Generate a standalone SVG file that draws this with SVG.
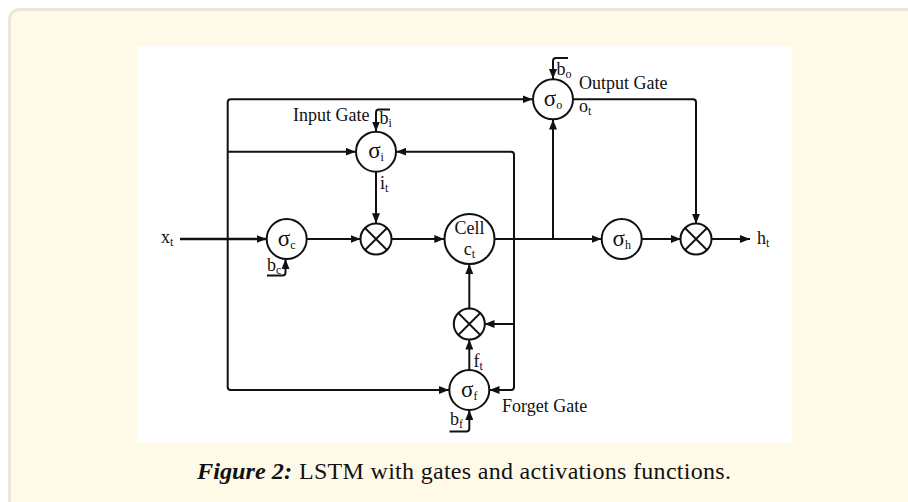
<svg xmlns="http://www.w3.org/2000/svg" width="908" height="502" viewBox="0 0 908 502">
<style>
.ln{stroke:#111;stroke-width:2;fill:none;stroke-linejoin:round}
.nd{fill:#fff;stroke:#111;stroke-width:2}
.x{stroke:#111;stroke-width:1.8}
.t{font-family:"Liberation Serif","Times New Roman",serif;fill:#111;font-size:18px}
.sg{font-family:"Liberation Serif","Times New Roman",serif;fill:#111;font-size:23px}
.sub{font-size:12px}
.cap{font-family:"Liberation Serif","Times New Roman",serif;fill:#111;font-size:24px}
</style>
<defs>
<marker id="ah" markerUnits="userSpaceOnUse" markerWidth="10" markerHeight="8" refX="10" refY="4" orient="auto">
<path d="M0,0 L10,4 L0,8 z" fill="#111"/>
</marker>
</defs>
<rect x="0" y="0" width="908" height="502" fill="#fff"/>
<rect x="9.5" y="9.5" width="930" height="530" rx="10" fill="#fffae8" stroke="#ece6d6" stroke-width="3"/>
<rect x="137" y="46" width="655" height="397" fill="#fff"/>

<g id="connectors" class="ln" marker-end="url(#ah)">
<path d="M180,239 H266.5" stroke-width="2.6"/>
<path d="M227.7,239 V102.3 Q227.7,99.3 230.7,99.3 H532.5"/>
<path d="M227.7,239 V387 Q227.7,390 230.7,390 H449"/>
<path d="M227.7,151.7 H355.7"/>
<path d="M306.7,239 H360.5"/>
<path d="M391.7,239 H444.3"/>
<path d="M494.5,239 H601.5"/>
<path d="M641.7,239 H680.8"/>
<path d="M711,239 H750"/>
<path d="M553,239 V119.5"/>
<path d="M573.3,99.3 H693 Q696,99.3 696,102.3 V223.8"/>
<path d="M376,171.7 V223.3"/>
<path d="M514,239 V154.7 Q514,151.7 511,151.7 H396.2"/>
<path d="M514,239 V387 Q514,390 511,390 H489.5"/>
<path d="M514,324 H484.5"/>
<path d="M469.3,370 V339.5"/>
<path d="M469.3,308.5 V264"/>
<path d="M390,109.5 H379 Q376,109.5 376,112.5 V131.5"/>
<path d="M568,58 H556 Q553,58 553,61 V79"/>
<path d="M267,275.5 H282.5 Q285.5,275.5 285.5,272.5 V259"/>
<path d="M449.5,431.5 H466.3 Q469.3,431.5 469.3,428.5 V410"/>
</g>

<g id="node-sigma-c">
<circle class="nd" cx="286.7" cy="239" r="20"/>
<text class="sg" x="286.7" y="245.5" text-anchor="middle">σ<tspan class="sub" dy="3">c</tspan></text>
</g>
<g id="node-sigma-i">
<circle class="nd" cx="376" cy="151.7" r="20"/>
<text class="sg" x="376" y="158.2" text-anchor="middle">σ<tspan class="sub" dy="3">i</tspan></text>
</g>
<g id="node-mult-i">
<circle class="nd" cx="376" cy="239" r="15.5"/>
<path class="x" d="M365,228 L387,250 M387,228 L365,250"/>
</g>
<g id="node-cell">
<circle class="nd" cx="469.5" cy="239" r="25"/>
<text class="t" x="469.5" y="234" text-anchor="middle" font-size="19">Cell</text>
<text class="t" x="469.5" y="254.5" text-anchor="middle" font-size="16">c<tspan class="sub" font-size="10" dy="3">t</tspan></text>
</g>
<g id="node-mult-f">
<circle class="nd" cx="469.3" cy="324" r="15.5"/>
<path class="x" d="M458.3,313 L480.3,335 M480.3,313 L458.3,335"/>
</g>
<g id="node-sigma-f">
<circle class="nd" cx="469.3" cy="390" r="20"/>
<text class="sg" x="469.3" y="396.5" text-anchor="middle">σ<tspan class="sub" dy="3">f</tspan></text>
</g>
<g id="node-sigma-o">
<circle class="nd" cx="553" cy="99.3" r="20"/>
<text class="sg" x="553" y="105.8" text-anchor="middle">σ<tspan class="sub" dy="3">o</tspan></text>
</g>
<g id="node-sigma-h">
<circle class="nd" cx="621.7" cy="239" r="20"/>
<text class="sg" x="621.7" y="245.5" text-anchor="middle">σ<tspan class="sub" dy="3">h</tspan></text>
</g>
<g id="node-mult-o">
<circle class="nd" cx="696" cy="239" r="15.5"/>
<path class="x" d="M685,228 L707,250 M707,228 L685,250"/>
</g>

<g id="labels">
<text class="t" x="161" y="243" font-size="20">x<tspan class="sub" dy="3">t</tspan></text>
<text class="t" x="757" y="244" font-size="20">h<tspan class="sub" dy="3">t</tspan></text>
<text class="t" x="293" y="120.5">Input Gate</text>
<text class="t" x="579" y="88.5">Output Gate</text>
<text class="t" x="502" y="411.5">Forget Gate</text>
<text class="t" x="380" y="189">i<tspan class="sub" dy="3">t</tspan></text>
<text class="t" x="473.5" y="367">f<tspan class="sub" dy="3">t</tspan></text>
<text class="t" x="579" y="112" font-size="15">o<tspan class="sub" dy="3">t</tspan></text>
<text class="t" x="379.5" y="124">b<tspan class="sub" dy="3">i</tspan></text>
<text class="t" x="556.5" y="75">b<tspan class="sub" dy="3">o</tspan></text>
<text class="t" x="267" y="271">b<tspan class="sub" dy="3">c</tspan></text>
<text class="t" x="450" y="425">b<tspan class="sub" dy="3">f</tspan></text>
</g>

<text class="cap" y="478.5"><tspan x="197" font-weight="bold" font-style="italic" textLength="95" lengthAdjust="spacingAndGlyphs">Figure 2:</tspan><tspan x="299" textLength="432" lengthAdjust="spacing">LSTM with gates and activations functions.</tspan></text>
</svg>
